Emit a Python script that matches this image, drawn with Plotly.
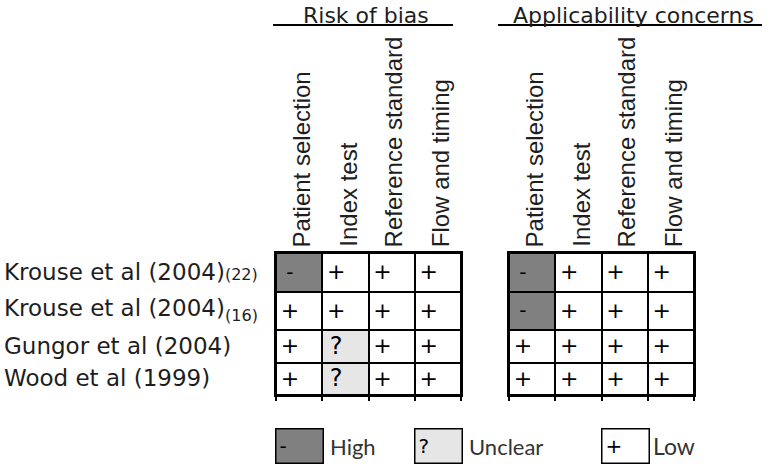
import plotly.graph_objects as go

# ---------------- data ----------------
STUDY_NAMES = ["Krouse et al (2004)", "Krouse et al (2004)", "Gungor et al (2004)", "Wood et al (1999)"]
STUDY_REFS = ["(22)", "(16)", "", ""]
DOMAINS = ["Patient selection", "Index test", "Reference standard", "Flow and timing"]
RISK_OF_BIAS = [
    ["High", "Low", "Low", "Low"],
    ["Low", "Low", "Low", "Low"],
    ["Low", "Unclear", "Low", "Low"],
    ["Low", "Unclear", "Low", "Low"],
]
APPLICABILITY = [
    ["High", "Low", "Low", "Low"],
    ["High", "Low", "Low", "Low"],
    ["Low", "Low", "Low", "Low"],
    ["Low", "Low", "Low", "Low"],
]
LEVELS = ["Low", "Unclear", "High"]
SYMBOLS = {"High": "-", "Unclear": "?", "Low": "+"}
PANEL_TITLES = ["Risk of bias", "Applicability concerns"]

# ---------------- style / layout ----------------
W, H = 784, 464
COLORS = {"Low": "#ffffff", "Unclear": "#e6e6e6", "High": "#808080"}
ROW_HEIGHTS = [39, 38, 33, 32]          # px, rows are not equal in the original
TEXT = "#1e1e1e"
GRID_TOP, GRID_BOTTOM = 253, 395
PANEL_X = [(276, 461), (509, 694)]
HEADER_LINES = [(273, 453), (498, 762)]
SYMBOL_SIZE = {"High": 20, "Unclear": 24, "Low": 22}


def px_x(p):
    return p / W


def px_y(p):
    return 1 - p / H


edges = [0]
for h in ROW_HEIGHTS:
    edges.append(edges[-1] + h)
centers = [(edges[i] + edges[i + 1]) / 2 for i in range(len(ROW_HEIGHTS))]

fig = go.Figure()
colorscale = [[0, COLORS["Low"]], [0.5, COLORS["Unclear"]], [1, COLORS["High"]]]

for k, table in enumerate([RISK_OF_BIAS, APPLICABILITY]):
    xa = "x" if k == 0 else "x2"
    ya = "y" if k == 0 else "y2"
    z = [[LEVELS.index(v) for v in row] for row in table]
    fig.add_trace(go.Heatmap(
        x=list(range(len(DOMAINS))), y=edges, z=z,
        zmin=0, zmax=2, colorscale=colorscale, showscale=False,
        xgap=2, ygap=2, hoverinfo="skip", xaxis=xa, yaxis=ya,
    ))
    tx, ty, tt, ts = [], [], [], []
    for i, row in enumerate(table):
        for j, v in enumerate(row):
            tx.append(j - 0.2)
            ty.append(centers[i] + 1)
            tt.append(SYMBOLS[v])
            ts.append(SYMBOL_SIZE[v])
    fig.add_trace(go.Scatter(
        x=tx, y=ty, text=tt, mode="text", textposition="middle center",
        textfont=dict(family="DejaVu Sans", size=ts, color="#000000"),
        hoverinfo="skip", showlegend=False, xaxis=xa, yaxis=ya,
    ))

axis_common = dict(showgrid=False, zeroline=False, showline=True, linecolor="#000000",
                   linewidth=2, mirror=True, fixedrange=True)
xaxis_style = dict(axis_common, range=[-0.5, len(DOMAINS) - 0.5], ticks="outside",
                   tickvals=[j - 0.5 for j in range(len(DOMAINS) + 1)], ticklen=4,
                   tickwidth=2, tickcolor="#000000", showticklabels=False)
yaxis_style = dict(axis_common, range=[edges[-1], 0], showticklabels=False, ticks="")

annotations = []
shapes = []

# row labels
for i, name in enumerate(STUDY_NAMES):
    ref = STUDY_REFS[i]
    if ref == "(22)":
        label = name + "<span style='font-size:16px'>" + ref + "</span>"
    elif ref:
        label = name + "<sub>" + ref + "</sub>"
    else:
        label = name
    annotations.append(dict(
        x=px_x(2), xref="paper", xanchor="left", y=centers[i] - 1, yref="y", yanchor="middle",
        text=label, showarrow=False, font=dict(family="DejaVu Sans", size=23, color=TEXT),
    ))

# column headers + panel titles
for k in range(2):
    xa = "x" if k == 0 else "x2"
    for j, d in enumerate(DOMAINS):
        annotations.append(dict(
            x=j + 0.05, xref=xa, y=px_y(249), yref="paper", yanchor="bottom", xanchor="center",
            text=d, textangle=-90, showarrow=False,
            font=dict(family="Liberation Sans", size=24, color=TEXT),
        ))
    x0, x1 = HEADER_LINES[k]
    annotations.append(dict(
        x=px_x((x0 + x1) / 2 + 3), xref="paper", y=px_y(1), yref="paper",
        xanchor="center", yanchor="top", text=PANEL_TITLES[k], showarrow=False,
        font=dict(family="DejaVu Sans", size=22, color=TEXT),
    ))
    shapes.append(dict(type="line", xref="paper", yref="paper", x0=px_x(x0), x1=px_x(x1),
                       y0=px_y(25), y1=px_y(25), line=dict(color="#000000", width=2)))

# legend
legend_items = [("High", 299, 328), ("Unclear", 438, 467), ("Low", 625, 651)]
for lvl, bx, lx in legend_items:
    annotations.append(dict(
        x=px_x(bx), xref="paper", y=px_y(446), yref="paper", xanchor="center", yanchor="middle",
        text=SYMBOLS[lvl], showarrow=False, align="left", width=40, height=27,
        bgcolor=COLORS[lvl], bordercolor="#000000", borderwidth=1.5, borderpad=3,
        font=dict(family="DejaVu Sans", size=20, color="#000000"),
    ))
    annotations.append(dict(
        x=px_x(lx), xref="paper", y=px_y(446), yref="paper", xanchor="left", yanchor="middle",
        text=lvl, showarrow=False,
        font=dict(family="Lato", size=23 if lvl == "Low" else 22, color="#333333"),
    ))

fig.update_layout(
    width=W, height=H, autosize=False,
    margin=dict(l=0, r=0, t=0, b=0),
    paper_bgcolor="#ffffff", plot_bgcolor="#000000",
    showlegend=False,
    xaxis=dict(xaxis_style, domain=[px_x(PANEL_X[0][0]), px_x(PANEL_X[0][1])], anchor="y"),
    yaxis=dict(yaxis_style, domain=[px_y(GRID_BOTTOM), px_y(GRID_TOP)], anchor="x"),
    xaxis2=dict(xaxis_style, domain=[px_x(PANEL_X[1][0]), px_x(PANEL_X[1][1])], anchor="y2"),
    yaxis2=dict(yaxis_style, domain=[px_y(GRID_BOTTOM), px_y(GRID_TOP)], anchor="x2"),
    annotations=annotations,
    shapes=shapes,
)

fig.write_html("out.html", config={"displayModeBar": False},
               post_script="document.body.style.margin='0';document.body.style.padding='0';")
